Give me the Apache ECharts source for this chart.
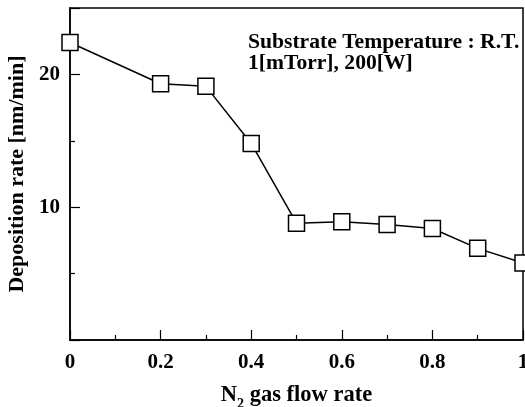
<!DOCTYPE html>
<html><head><meta charset="utf-8">
<script src="https://cdn.jsdelivr.net/npm/echarts@6/dist/echarts.min.js"></script>
<style>html,body{margin:0;padding:0;background:#fff}#c{width:525px;height:407px}</style>
</head><body><div id="c"></div>
<script>
const flowRate = [0, 0.2, 0.3, 0.4, 0.5, 0.6, 0.7, 0.8, 0.9, 1.0];
const depositionRate = [22.4, 19.3, 19.1, 14.8, 8.8, 8.9, 8.7, 8.4, 6.9, 5.8];
const yTickLabels = [10, 20];
const annotationLines = ['Substrate Temperature : R.T.', '1[mTorr], 200[W]'];

const font = 'Liberation Serif';
const chart = echarts.init(document.getElementById('c'));
chart.setOption({
  animation: false,
  grid: {left: 70, top: 8, right: 2, bottom: 67, show: true, borderColor: '#000', borderWidth: 1.5,
         containLabel: false, outerBoundsMode: 'none'},
  xAxis: {
    type: 'value', min: 0, max: 1, interval: 0.2,
    name: '{a|N}{s|2}{a| gas flow rate}', nameLocation: 'middle', nameGap: 44,
    nameTextStyle: {rich: {a: {fontFamily: font, fontWeight: 'bold', fontSize: 22.5, color: '#000'},
                           s: {fontFamily: font, fontWeight: 'bold', fontSize: 14, color: '#000', verticalAlign: 'bottom', padding: [0,0,-4,0]}}},
    axisLine: {lineStyle: {color: '#000', width: 1.5}},
    axisTick: {inside: true, length: 10, lineStyle: {color: '#000', width: 1.2}},
    minorTick: {show: true, splitNumber: 2, length: 5, lineStyle: {color: '#000', width: 1.2}},
    splitLine: {show: false},
    axisLabel: {fontFamily: font, fontWeight: 'bold', fontSize: 21, color: '#000', margin: 12,
      formatter: v => (v === 0 || v === 1) ? String(v) : v.toFixed(1)}
  },
  yAxis: {
    type: 'value', min: 0, max: 25, interval: 10,
    name: 'Deposition rate [nm/min]', nameLocation: 'middle', nameGap: 41,
    nameTextStyle: {fontFamily: font, fontWeight: 'bold', fontSize: 22, color: '#000'},
    axisLine: {show: true, lineStyle: {color: '#000', width: 1.5}},
    axisTick: {inside: true, length: 10, lineStyle: {color: '#000', width: 1.2}},
    minorTick: {show: true, splitNumber: 2, length: 5, lineStyle: {color: '#000', width: 1.2}},
    splitLine: {show: false},
    axisLabel: {fontFamily: font, fontWeight: 'bold', fontSize: 21, color: '#000', margin: 10,
      showMaxLabel: false,
      formatter: v => yTickLabels.includes(v) ? String(v) : ''}
  },
  graphic: [{
    type: 'text', left: 248, top: 31,
    style: {text: annotationLines.join('\n'), fontFamily: font, fontWeight: 'bold', fontSize: 21.6, lineHeight: 21, fill: '#000'}
  }],
  series: [{
    type: 'line',
    data: flowRate.map((x, i) => [x, depositionRate[i]]),
    symbol: 'rect', symbolSize: 16,
    clip: false,
    lineStyle: {color: '#000', width: 1.5},
    itemStyle: {color: '#fff', borderColor: '#000', borderWidth: 1.5}
  }]
});
</script></body></html>
